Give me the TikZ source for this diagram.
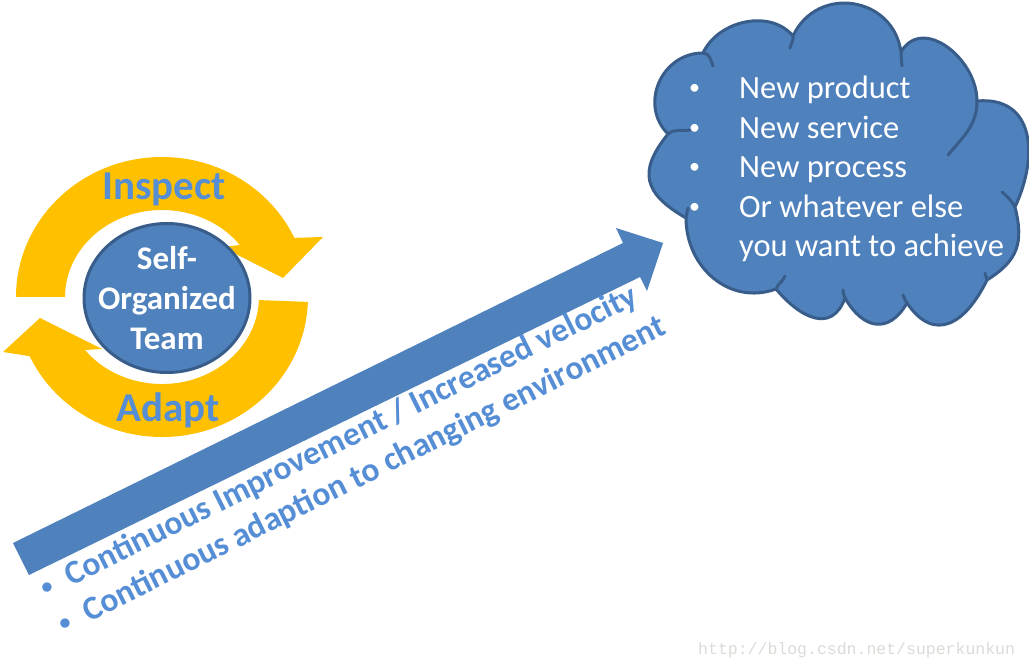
\documentclass[tikz,border=0pt]{standalone}
\usepackage{fontspec}
\setmainfont{Carlito}
\newfontfamily\urlfont{Liberation Mono}
\usepackage{tikz}
\usetikzlibrary{shapes.geometric}
\definecolor{scrumblue}{HTML}{4F81BD}
\definecolor{scrumedge}{HTML}{385D8A}
\definecolor{loopyellow}{HTML}{FFC000}
\definecolor{labelblue}{HTML}{558ED5}
\definecolor{markgray}{RGB}{218,218,214}
\newcommand{\dotmark}{\raisebox{4pt}{\fontsize{22}{22}\selectfont\textbullet}}
\tikzset{
  loopring/.style   = {fill=loopyellow},
  teamnode/.style   = {ellipse, draw=scrumedge, line width=3pt, fill=scrumblue,
                       minimum width=166pt, minimum height=149pt, inner sep=0pt},
  teamtext/.style   = {text=white, align=center, inner sep=0pt,
                       font=\fontsize{33}{40}\selectfont\bfseries},
  looplabel/.style  = {text=labelblue, inner sep=0pt, anchor=base,
                       font=\fontsize{41}{49}\selectfont\bfseries},
  trendarrow/.style = {fill=scrumblue},
  slogan/.style     = {text=labelblue, inner sep=0pt, rotate=26.5, anchor=base west,
                       font=\fontsize{33.5}{40}\selectfont\bfseries},
  goalcloud/.style  = {fill=scrumblue, draw=scrumedge, line width=3pt, line join=round},
  cloudseam/.style  = {draw=scrumedge, line width=3pt, line cap=round},
  goaltext/.style   = {text=white, inner sep=0pt, align=left, anchor=base west,
                       font=\fontsize{32.5}{39.5}\selectfont},
  watermark/.style  = {text=markgray, inner sep=0pt, anchor=base west,
                       font=\urlfont\fontsize{16.5}{20}\selectfont},
}

\begin{document}
\begin{tikzpicture}[x=1pt, y=1pt]
  \useasboundingbox (0,0) rectangle (1029,-668);

  \fill[loopring] (16,-297) arc[start angle=180, end angle=25, x radius=146, y radius=140]
    -- (323,-237) -- (283,-278) -- (222,-247) -- (239.8,-245)
    arc[start angle=36.7, end angle=180, x radius=97, y radius=87] -- cycle;
  \fill[loopring] (307.9,-301.9) arc[start angle=-2, end angle=-155, x radius=146, y radius=140]
    -- (3,-352) -- (40,-318) -- (102,-349) -- (85,-350)
    arc[start angle=-142.5, end angle=-2, x radius=97, y radius=87] -- cycle;

  \node[teamnode] (team) at (167,-298) {};
  \node[teamtext] (teamname) at (team) {Self-\\Organized\\Team};
  \node[looplabel] (inspect) at (164,-200) {Inspect};
  \node[looplabel] (adapt) at (168,-421) {Adapt};

  \fill[trendarrow] (13,-543) -- (623,-243) -- (616,-228) -- (663,-243)
    -- (647,-291) -- (640,-277) -- (29,-575) -- cycle;
  \node[slogan] (drive1) at (46.4,-598.8)
    {\makebox[28pt][l]{\dotmark}Continuous Improvement / Increased velocity};
  \node[slogan] (drive2) at (64.4,-634.8)
    {\makebox[28pt][l]{\dotmark}Continuous adaption to changing environment};

  \path[goalcloud] (668,-134) to[out=135, in=180, looseness=1.2] (703,-53)
    to[out=65, in=130, looseness=1.0] (793,-36)
    to[out=65, in=98, looseness=1.33] (901,-52)
    to[out=60, in=90, looseness=1.2] (977,-101)
    to[out=5, in=65, looseness=1.3] (1015,-207)
    to[out=-76, in=32, looseness=1.2] (987,-280)
    to[out=-116, in=-56, looseness=1.5] (907,-303)
    to[out=-120, in=-60, looseness=1.5] (845,-298)
    to[out=-110, in=-50, looseness=1.4] (776,-289)
    to[out=-160, in=-90, looseness=1.1] (686,-218)
    to[out=150, in=231, looseness=1.45] (668,-134) -- cycle;
  \draw[cloudseam] (668,-134) to[out=40, in=190] (690,-130);
  \draw[cloudseam] (703,-53) to[out=0, in=110] (713,-66);
  \draw[cloudseam] (793,-36) to[out=-80, in=80] (790,-48);
  \draw[cloudseam] (901,-52) to[out=-90, in=95] (902,-66);
  \draw[cloudseam] (977,-101) to[out=-90, in=50] (948,-155);
  \draw[cloudseam] (1015,-207) to[out=120, in=-40] (1002,-192);
  \draw[cloudseam] (987,-280) to[out=100, in=-80] (985,-273);
  \draw[cloudseam] (907,-303) to[out=124, in=-70] (903,-295);
  \draw[cloudseam] (845,-298) to[out=120, in=-80] (843,-290);
  \draw[cloudseam] (776,-289) to[out=70, in=-110] (785,-276);
  \draw[cloudseam] (686,-218) to[out=90, in=-95] (688,-208);

  \node[goaltext] (goals) at (689,-257)
    {\makebox[50pt][l]{\dotmark}New product\\
     \makebox[50pt][l]{\dotmark}New service\\
     \makebox[50pt][l]{\dotmark}New process\\
     \makebox[50pt][l]{\dotmark}Or whatever else\\
     \hspace*{50pt}you want to achieve};

  \node[watermark] (url) at (698,-654) {http://blog.csdn.net/superkunkun};
\end{tikzpicture}
\end{document}
